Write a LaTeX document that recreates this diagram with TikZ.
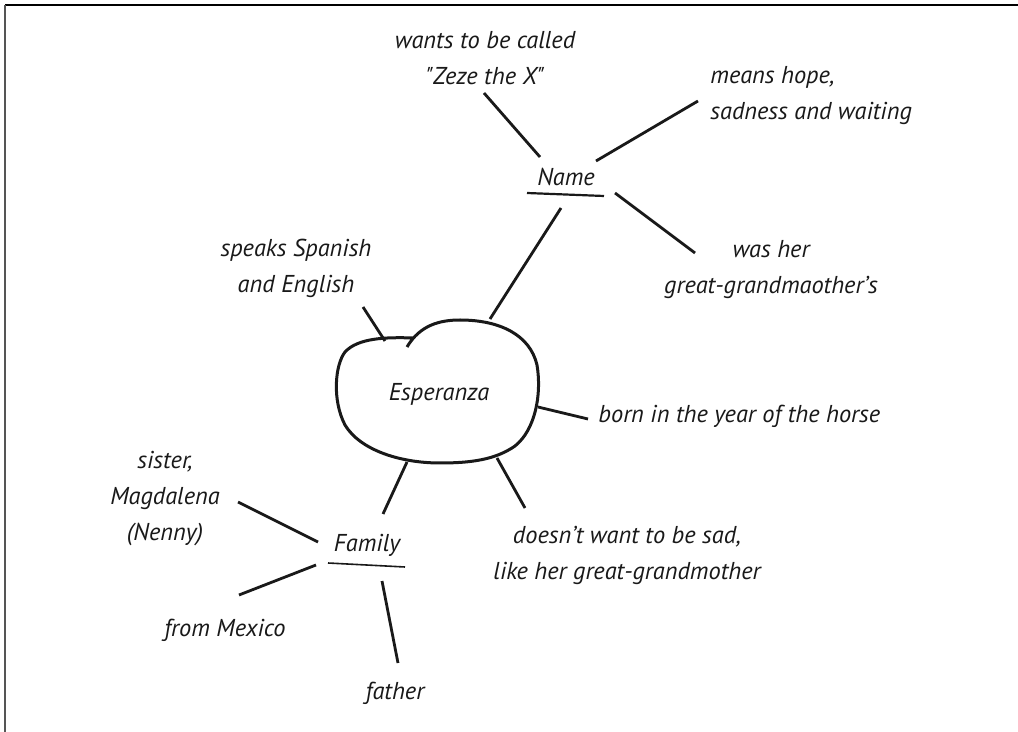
\documentclass[tikz,border=0pt]{standalone}
\usepackage{fontspec}
\setmainfont{PT Sans}[Ligatures=TeXOff]
\usepackage{tikz}
\usetikzlibrary{shapes,positioning}
\usepackage{xcolor}
\definecolor{mmink}{RGB}{25,25,25}
\definecolor{mmedge}{RGB}{85,85,85}
\tikzstyle{spoke} = [line width=1.4pt,color=mmink]
\tikzstyle{lbl} = [font=\fontsize{12.2}{18}\selectfont\itshape, text=mmink, inner sep=0pt, align=center]

\begin{document}
\begin{tikzpicture}[x=0.5pt,y=-0.5pt]
\useasboundingbox (0,0) rectangle (1018,732);
% Frame
\draw[line width=1pt, black] (5,5) -- (1018,5);
\draw[line width=1.3pt, mmedge] (5,5) -- (5,732);

% Hub
\node[lbl, ellipse, minimum width=100pt, minimum height=71pt] (esp) at (439,394) {Esperanza};
\draw[line width=1.5pt, mmink] (407,347) .. controls (420,325) and (440,320) .. (460,320)
  .. controls (500,320) and (530,335) .. (537,365)
  .. controls (542,395) and (535,430) .. (515,446)
  .. controls (495,460) and (470,463) .. (440,463)
  .. controls (400,463) and (360,450) .. (345,425)
  .. controls (332,400) and (335,365) .. (345,352)
  .. controls (358,338) and (385,337) .. (414,338);

% Sub-topics
\node[lbl] (nm) at (566,177) {Name};
\draw[line width=1.1pt, mmink] ([shift={(-39,16)}]nm.center) -- ([shift={(38,19)}]nm.center);
\node[lbl] (fam) at (367,545) {Family};
\draw[line width=0.8pt, mmink] ([shift={(-39,18)}]fam.center) -- ([shift={(38,22)}]fam.center);

% Labels
\node[lbl] (wants) at (485,58) {wants to be called\\"Zeze the X"};
\node[lbl, anchor=west, align=left] (means) at (710,96) {means hope,\\sadness and waiting};
\node[lbl] (washer) at (771,270) {was her\\great-grandmaother’s};
\node[lbl] (speaks) at (296,268) {speaks Spanish\\and English};
\node[lbl, anchor=west] (born) at (598,416) {born in the year of the horse};
\node[lbl] (doesnt) at (627,555) {doesn’t want to be sad,\\like her great-grandmother};
\node[lbl] (sister) at (165,499) {sister,\\Magdalena\\(Nenny)};
\node[lbl] (mexico) at (225,630) {from Mexico};
\node[lbl] (father) at (395,693) {father};

% Spokes
\draw[spoke] ([shift={(-1,35)}]wants.center) -- ([shift={(-26,-20)}]nm.center);
\draw[spoke] ([shift={(30,-16)}]nm.center) -- ([shift={(-12,5)}]means.west);
\draw[spoke] ([shift={(49,16)}]nm.center) -- ([shift={(-76,-17)}]washer.center);
\draw[spoke] ([shift={(-5,31)}]nm.center) -- ([shift={(51,-75)}]esp.center);
\draw[spoke] ([shift={(67,39)}]speaks.center) -- ([shift={(-54,-53)}]esp.center);
\draw[spoke] ([shift={(99,13)}]esp.center) -- ([shift={(-10,3)}]born.west);
\draw[spoke] ([shift={(58,64)}]esp.center) -- ([shift={(-102,-47)}]doesnt.center);
\draw[spoke] ([shift={(-32,68)}]esp.center) -- ([shift={(16,-31)}]fam.center);
\draw[spoke] ([shift={(-49,-3)}]fam.center) -- ([shift={(73,3)}]sister.center);
\draw[spoke] ([shift={(-51,20)}]fam.center) -- ([shift={(14,-35)}]mexico.center);
\draw[spoke] ([shift={(15,36)}]fam.center) -- ([shift={(3,-30)}]father.center);
\end{tikzpicture}
\end{document}
